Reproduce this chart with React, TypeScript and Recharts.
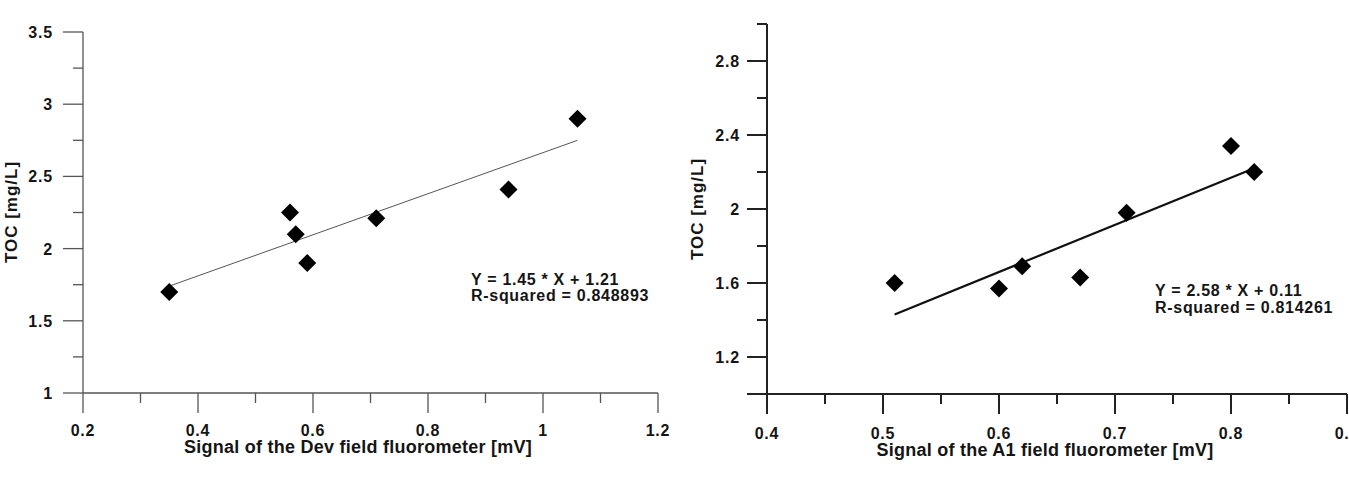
import React from 'react';
import { ScatterChart, Scatter, XAxis, YAxis } from 'recharts';

// ---------- data ----------
const leftPoints = [
  { x: 0.35, y: 1.7 },
  { x: 0.56, y: 2.25 },
  { x: 0.57, y: 2.1 },
  { x: 0.59, y: 1.9 },
  { x: 0.71, y: 2.21 },
  { x: 0.94, y: 2.41 },
  { x: 1.06, y: 2.9 },
];
const leftFit = [
  { x: 0.35, y: 1.74 },
  { x: 1.06, y: 2.75 },
];
const rightPoints = [
  { x: 0.51, y: 1.6 },
  { x: 0.6, y: 1.57 },
  { x: 0.62, y: 1.69 },
  { x: 0.67, y: 1.63 },
  { x: 0.71, y: 1.98 },
  { x: 0.8, y: 2.34 },
  { x: 0.82, y: 2.2 },
];
const rightFit = [
  { x: 0.51, y: 1.43 },
  { x: 0.82, y: 2.22 },
];

const leftXTicks = [0.2, 0.3, 0.4, 0.5, 0.6, 0.7, 0.8, 0.9, 1.0, 1.1, 1.2];
const leftXMajor = [0.2, 0.4, 0.6, 0.8, 1.0, 1.2];
const leftXLabels = ['0.2', '0.4', '0.6', '0.8', '1', '1.2'];
const leftYTicks = [1, 1.25, 1.5, 1.75, 2, 2.25, 2.5, 2.75, 3, 3.25, 3.5];
const leftYMajor = [1, 1.5, 2, 2.5, 3, 3.5];
const leftYLabels = ['1', '1.5', '2', '2.5', '3', '3.5'];

const rightXTicks = [0.4, 0.45, 0.5, 0.55, 0.6, 0.65, 0.7, 0.75, 0.8, 0.85, 0.9];
const rightXMajor = [0.4, 0.5, 0.6, 0.7, 0.8, 0.9];
const rightXLabels = ['0.4', '0.5', '0.6', '0.7', '0.8', '0.9'];
const rightYTicks = [1.0, 1.2, 1.4, 1.6, 1.8, 2.0, 2.2, 2.4, 2.6, 2.8, 3.0];
const rightYMajor = [1.0, 1.2, 1.6, 2.0, 2.4, 2.8];
const rightYLabels = ['', '1.2', '1.6', '2', '2.4', '2.8'];

const leftXTitle = 'Signal of the Dev field fluorometer [mV]';
const rightXTitle = 'Signal of the A1 field fluorometer [mV]';
const yTitle = 'TOC [mg/L]';
const leftEq = ['Y = 1.45 * X + 1.21', 'R-squared = 0.848893'];
const rightEq = ['Y = 2.58 * X + 0.11', 'R-squared = 0.814261'];

// ---------- styles ----------
const FONT = '"Liberation Sans", Arial, sans-serif';
const TXT = '#151515';
const AX_W = 40; // y axis area width
const AX_H = 40; // x axis area height
const tickTextStyle: React.CSSProperties = {
  fontFamily: FONT,
  fontWeight: 700,
  fontSize: 16,
  letterSpacing: 0.8,
  fill: TXT,
};

const Diamond = (props: any) => {
  const { cx, cy } = props;
  if (cx == null || cy == null) return <g />;
  const r = 9;
  return (
    <polygon
      points={`${cx},${cy - r} ${cx + r},${cy} ${cx},${cy + r} ${cx - r},${cy}`}
      fill="#000"
    />
  );
};
const Empty = () => <g />;

const makeXTick = (majors: number[], labels: string[], stroke: string, sw: number, dy: number) =>
  (p: any) => {
    const { x, y, payload } = p;
    const i = majors.indexOf(payload.value);
    const major = i >= 0;
    return (
      <g>
        <line x1={x} y1={y} x2={x} y2={y + (major ? 20 : 10)} stroke={stroke} strokeWidth={sw} />
        {major && labels[i] ? (
          <text x={x} y={y + dy} textAnchor="middle" style={tickTextStyle}>{labels[i]}</text>
        ) : null}
      </g>
    );
  };

const makeYTick = (majors: number[], labels: string[], stroke: string, sw: number, dx: number) =>
  (p: any) => {
    const { x, y, payload } = p;
    const i = majors.indexOf(payload.value);
    const major = i >= 0;
    return (
      <g>
        <line x1={x} y1={y} x2={x - (major ? 20 : 10)} y2={y} stroke={stroke} strokeWidth={sw} />
        {major && labels[i] ? (
          <text x={x - dx} y={y + 6} textAnchor="end" style={tickTextStyle}>{labels[i]}</text>
        ) : null}
      </g>
    );
  };

const LS = '#555';
const RS = '#222';

export default function App() {
  return (
    <div style={{ position: 'absolute', left: 0, top: 0, width: 1349, height: 480, overflow: 'hidden', background: '#fff' }}>
      <div style={{ position: 'absolute', left: 0, top: 0 }}>
        <ScatterChart width={680} height={480}
          margin={{ top: 32, right: 22, bottom: 87 - AX_H, left: 83 - AX_W }}>
          <XAxis type="number" dataKey="x" domain={[0.2, 1.2]} ticks={leftXTicks} interval={0}
            height={AX_H} tickSize={0} tickMargin={0} tickLine={false}
            axisLine={{ stroke: LS, strokeWidth: 1.3 }}
            tick={makeXTick(leftXMajor, leftXLabels, LS, 1.3, 43)} allowDataOverflow />
          <YAxis type="number" dataKey="y" domain={[1, 3.5]} ticks={leftYTicks} interval={0}
            width={AX_W} tickSize={0} tickMargin={0} tickLine={false}
            axisLine={{ stroke: LS, strokeWidth: 1.3 }}
            tick={makeYTick(leftYMajor, leftYLabels, LS, 1.3, 30)} allowDataOverflow />
          <Scatter data={leftFit} line={{ stroke: '#555', strokeWidth: 1 }} shape={Empty}
            isAnimationActive={false} legendType="none" />
          <Scatter data={leftPoints} shape={Diamond} isAnimationActive={false} />
        </ScatterChart>
      </div>
      <div style={{ position: 'absolute', left: 690, top: 0 }}>
        <ScatterChart width={670} height={480}
          margin={{ top: 24, right: 13, bottom: 86 - AX_H, left: 77 - AX_W }}>
          <XAxis type="number" dataKey="x" domain={[0.4, 0.9]} ticks={rightXTicks} interval={0}
            height={AX_H} tickSize={0} tickMargin={0} tickLine={false}
            axisLine={{ stroke: RS, strokeWidth: 2 }}
            tick={makeXTick(rightXMajor, rightXLabels, RS, 2, 45)} allowDataOverflow />
          <YAxis type="number" dataKey="y" domain={[1, 3]} ticks={rightYTicks} interval={0}
            width={AX_W} tickSize={0} tickMargin={0} tickLine={false}
            axisLine={{ stroke: RS, strokeWidth: 2 }}
            tick={makeYTick(rightYMajor, rightYLabels, RS, 2, 27)} allowDataOverflow />
          <Scatter data={rightFit} line={{ stroke: '#111', strokeWidth: 2.2 }} shape={Empty}
            isAnimationActive={false} legendType="none" />
          <Scatter data={rightPoints} shape={Diamond} isAnimationActive={false} />
        </ScatterChart>
      </div>
      <svg width={1349} height={480} style={{ position: 'absolute', left: 0, top: 0, pointerEvents: 'none' }}>
        <g fontFamily={FONT} fontWeight="bold" fill={TXT}>
          <text x={358} y={453} textAnchor="middle" fontSize={18} letterSpacing={0.25}>{leftXTitle}</text>
          <text x={1045} y={456} textAnchor="middle" fontSize={18} letterSpacing={0.25}>{rightXTitle}</text>
          <text transform="translate(17,212) rotate(-90)" textAnchor="middle" fontSize={17} letterSpacing={1}>{yTitle}</text>
          <text transform="translate(703,209) rotate(-90)" textAnchor="middle" fontSize={17} letterSpacing={1}>{yTitle}</text>
          <text x={471} y={285} fontSize={16} letterSpacing={0.7}>{leftEq[0]}</text>
          <text x={471} y={301} fontSize={16} letterSpacing={0.7}>{leftEq[1]}</text>
          <text x={1155} y={296} fontSize={16} letterSpacing={0.7}>{rightEq[0]}</text>
          <text x={1155} y={313} fontSize={16} letterSpacing={0.7}>{rightEq[1]}</text>
        </g>
      </svg>
    </div>
  );
}
